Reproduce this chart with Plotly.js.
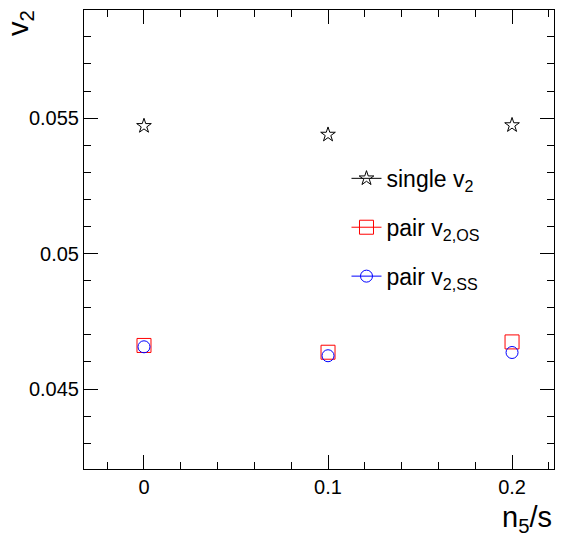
<!DOCTYPE html>
<html>
<head>
<meta charset="utf-8">
<script src="https://cdn.plot.ly/plotly-3.0.1.min.js"></script>
<style>html,body{margin:0;padding:0;background:#fff;}#chart{width:562px;height:540px;}</style>
</head>
<body>
<div id="chart"></div>
<script>
// Data
const xValues = [0, 0.1, 0.2];
const singleV2 = [0.05471, 0.05439, 0.05474];
const pairV2OS = [0.04661, 0.04636, 0.04674];
const pairV2SS = [0.04656, 0.04623, 0.04635];
const legendNames = ["single v<sub>2</sub>", "pair v<sub>2,OS</sub>", "pair v<sub>2,SS</sub>"];
const xTickVals = [0, 0.1, 0.2];
const xTickText = ["0", "0.1", "0.2"];
const yTickVals = [0.045, 0.05, 0.055];
const yTickText = ["0.045", "0.05", "0.055"];

const FONT = "Liberation Sans, Arial, Helvetica, sans-serif";

function series(y, name, symbol, color, size, group) {
  return [
    {x: xValues, y: y, type: 'scatter', mode: 'markers', showlegend: false, cliponaxis: false,
     marker: {symbol: symbol, size: size, color: color, line: {color: color, width: 1}}, hoverinfo: 'skip'},
    {x: [null], y: [null], type: 'scatter', mode: 'lines+markers', name: name, legendgroup: group,
     line: {color: color, width: 1},
     marker: {symbol: symbol, size: size, color: color, line: {color: color, width: 1}}}
  ];
}

const data = [].concat(
  series(singleV2, legendNames[0], 'star-open', '#000000', 11, 'g1'),
  series(pairV2OS, legendNames[1], 'square-open', '#ff0000', 14, 'g2'),
  series(pairV2SS, legendNames[2], 'circle-open', '#0000ff', 12, 'g3')
);

const axisCommon = {
  showline: true, linecolor: '#000', linewidth: 1, mirror: 'allticks',
  ticks: 'inside', tickcolor: '#000', tickwidth: 1,
  showgrid: false, zeroline: false,
  tickfont: {family: FONT, size: 20, color: '#000'}
};

const layout = {
  width: 562, height: 540,
  margin: {l: 84, r: 8, t: 10, b: 71},
  paper_bgcolor: '#fff', plot_bgcolor: '#fff',
  showlegend: true,
  legend: {
    x: 0.5585, y: 0.68, xanchor: 'left', yanchor: 'top',
    bgcolor: 'rgba(0,0,0,0)', borderwidth: 0,
    font: {family: FONT, size: 23, color: '#000'},
    traceorder: 'grouped', tracegroupgap: 16, itemwidth: 30
  },
  xaxis: Object.assign({}, axisCommon, {
    range: [-0.0326, 0.2228],
    tickmode: 'array', tickvals: xTickVals, ticktext: xTickText, ticklen: 14,
    minor: {dtick: 0.02, tick0: 0, ticks: 'inside', ticklen: 7, tickcolor: '#000', tickwidth: 1, showgrid: false}
  }),
  yaxis: Object.assign({}, axisCommon, {
    range: [0.04205, 0.05899],
    tickmode: 'array', tickvals: yTickVals, ticktext: yTickText, ticklen: 14,
    minor: {dtick: 0.001, tick0: 0, ticks: 'inside', ticklen: 7, tickcolor: '#000', tickwidth: 1, showgrid: false}
  }),
  annotations: [
    {xref: 'paper', yref: 'paper', x: 1, y: 0, xanchor: 'right', yanchor: 'top', yshift: -30,
     text: 'n<sub>5</sub>/s', showarrow: false, font: {family: FONT, size: 29, color: '#000'}},
    {xref: 'paper', yref: 'paper', x: 0, y: 1, xanchor: 'right', yanchor: 'top', xshift: -44, yshift: 2,
     text: 'v<sub>2</sub>', textangle: -90, showarrow: false, font: {family: FONT, size: 29, color: '#000'}}
  ]
};

Plotly.newPlot('chart', data, layout, {displayModeBar: false, staticPlot: true});
</script>
</body>
</html>
